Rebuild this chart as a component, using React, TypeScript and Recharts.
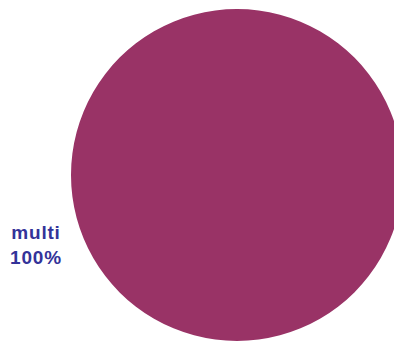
import { Cell, Pie, PieChart } from 'recharts'

const categories = ['multi']
const values = [100]
const sliceColors = ['#993366']

const pieData = categories.map((name, i) => ({ name, value: values[i] }))
const total = values.reduce((acc, v) => acc + v, 0)

function SliceLabel(props: any) {
  const { cx, cy, outerRadius, name, value } = props
  const pct = Math.round((value / total) * 100)
  const x = cx - outerRadius - 35
  return (
    <text
      x={x}
      textAnchor="middle"
      fill="#333399"
      style={{
        fontFamily: '"Liberation Sans", Arial, sans-serif',
        fontWeight: 700,
        fontSize: 19,
        letterSpacing: 0.8,
      }}
    >
      <tspan x={x} y={cy + 63.5}>{name}</tspan>
      <tspan x={x} y={cy + 89}>{pct}%</tspan>
    </text>
  )
}

export default function App() {
  return (
    <div style={{ position: 'absolute', left: 0, top: 0, width: 394, height: 343, background: '#fff' }}>
      <PieChart width={394} height={343} margin={{ top: 0, right: 0, bottom: 0, left: 0 }}>
        <Pie
          data={pieData}
          dataKey="value"
          nameKey="name"
          cx={237}
          cy={175}
          outerRadius={166}
          startAngle={90}
          endAngle={-270}
          stroke="none"
          label={SliceLabel}
          labelLine={false}
          isAnimationActive={false}
        >
          {pieData.map((entry, index) => (
            <Cell key={`cell-${index}`} fill={sliceColors[index]} />
          ))}
        </Pie>
      </PieChart>
    </div>
  )
}
